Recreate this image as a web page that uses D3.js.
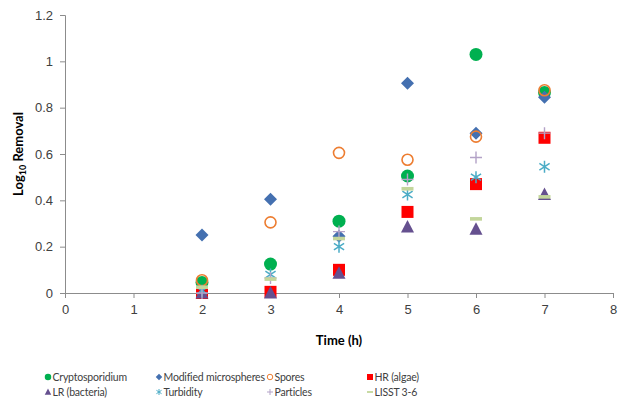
<!DOCTYPE html>
<html>
<head>
<meta charset="utf-8">
<script src="https://cdn.jsdelivr.net/npm/d3@7"></script>
<style>
  body { margin: 0; background: #fff; }
  svg { font-family: Lato, "Open Sans", sans-serif; }
</style>
</head>
<body>
<svg id="chart" width="619" height="410"></svg>
<script>
// values
const times = [2, 3, 4, 5, 6, 7];
const cryptosporidium = [0.045, 0.125, 0.31, 0.505, 1.03, 0.865];
const modifiedMicrospheres = [0.25, 0.405, 0.245, 0.905, 0.69, 0.845];
const spores = [0.055, 0.305, 0.605, 0.575, 0.675, 0.875];
const hrAlgae = [0.0, 0.005, 0.1, 0.35, 0.47, 0.67];
const lrBacteria = [0.0, 0.0, 0.085, 0.285, 0.275, 0.425];
const turbidity = [0.01, 0.08, 0.2, 0.425, 0.5, 0.545];
const particles = [0.0, 0.065, 0.265, 0.49, 0.585, 0.69];
const lisst = [0.025, 0.06, 0.235, 0.45, 0.32, 0.415];

const xTicks = [0, 1, 2, 3, 4, 5, 6, 7, 8];
const yTicks = [0, 0.2, 0.4, 0.6, 0.8, 1, 1.2];

const seriesNames = ['Cryptosporidium', 'Modified microspheres', 'Spores', 'HR (algae)',
  'LR (bacteria)', 'Turbidity', 'Particles', 'LISST 3-6'];
const seriesValues = [cryptosporidium, modifiedMicrospheres, spores, hrAlgae,
  lrBacteria, turbidity, particles, lisst];

const styles = {
  'Cryptosporidium': { shape: 'circle', color: '#00b050' },
  'Modified microspheres': { shape: 'diamond', color: '#4470b0' },
  'Spores': { shape: 'ring', color: '#ed7d31' },
  'HR (algae)': { shape: 'square', color: '#ff0000' },
  'LR (bacteria)': { shape: 'triangle', color: '#65508f' },
  'Turbidity': { shape: 'star', color: '#4bacc6' },
  'Particles': { shape: 'plus', color: '#b3a2c7' },
  'LISST 3-6': { shape: 'dash', color: '#c3d69b' },
};

const svg = d3.select('#chart');
const plotLeft = 65, plotRight = 613, plotTop = 15, plotBottom = 293;

const x = d3.scaleLinear().domain([0, 8]).range([plotLeft, plotRight]);
const y = d3.scaleLinear().domain([0, 1.2]).range([plotBottom, plotTop]);

const axisColor = '#8c8c8c';
const textColor = '#404040';

// axes
const xAxis = svg.append('g')
  .attr('transform', `translate(0,${plotBottom})`)
  .call(d3.axisBottom(x).tickValues(xTicks).tickSize(5).tickPadding(7).tickFormat(d3.format('d')));
const yAxis = svg.append('g')
  .attr('transform', `translate(${plotLeft},0)`)
  .call(d3.axisLeft(y).tickValues(yTicks).tickSize(5).tickPadding(7).tickFormat(d => String(d)));

[xAxis, yAxis].forEach(g => {
  g.select('.domain').attr('stroke', axisColor);
  g.selectAll('.tick line').attr('stroke', axisColor);
  g.selectAll('.tick text').attr('fill', textColor).style('font-size', '13px');
});

// axis titles
svg.append('text')
  .attr('x', x(4)).attr('y', 345)
  .attr('text-anchor', 'middle')
  .style('font-size', '13px').style('font-weight', 'bold').attr('fill', '#000')
  .text('Time (h)');

const yTitle = svg.append('text')
  .attr('transform', `translate(23,${(plotTop + plotBottom) / 2}) rotate(-90)`)
  .attr('text-anchor', 'middle')
  .style('font-size', '13px').style('font-weight', 'bold').attr('fill', '#000');
yTitle.append('tspan').text('Log');
yTitle.append('tspan').attr('dy', 3).style('font-size', '9px').text('10');
yTitle.append('tspan').attr('dy', -3).text(' Removal');

// marker drawing
function drawMarker(g, shape, color, s) {
  const k = s / 12;
  switch (shape) {
    case 'circle':
      g.append('circle').attr('r', 6.5 * k).attr('fill', color);
      break;
    case 'ring':
      g.append('circle').attr('r', 5.5 * k).attr('fill', 'none')
        .attr('stroke', color).attr('stroke-width', s < 10 ? 1 : 1.6);
      break;
    case 'diamond': {
      const r = 6.5 * k;
      g.append('path').attr('d', `M0,${-r}L${r},0L0,${r}L${-r},0Z`).attr('fill', color);
      break;
    }
    case 'square':
      g.append('rect').attr('x', -6 * k).attr('y', -6 * k)
        .attr('width', 12 * k).attr('height', 12 * k).attr('fill', color);
      break;
    case 'triangle':
      g.append('path').attr('d', `M0,${-7 * k}L${6.5 * k},${5.5 * k}L${-6.5 * k},${5.5 * k}Z`).attr('fill', color);
      break;
    case 'star': {
      const r = 6 * k;
      g.append('path')
        .attr('d', `M0,${-r}V${r}M${-r * 0.85},${-r * 0.55}L${r * 0.85},${r * 0.55}M${-r * 0.85},${r * 0.55}L${r * 0.85},${-r * 0.55}`)
        .attr('stroke', color).attr('stroke-width', s < 10 ? 1 : 1.5).attr('fill', 'none');
      break;
    }
    case 'plus': {
      const r = 6 * k;
      g.append('path').attr('d', `M${-r},0H${r}M0,${-r}V${r}`)
        .attr('stroke', color).attr('stroke-width', s < 10 ? 1 : 1.4).attr('fill', 'none');
      break;
    }
    case 'dash':
      g.append('rect').attr('x', -6 * k).attr('y', -1.8 * k)
        .attr('width', 12 * k).attr('height', 3.6 * k).attr('fill', color);
      break;
  }
}

// points
seriesNames.forEach((name, i) => {
  const st = styles[name];
  const grp = svg.append('g').attr('class', 'series');
  grp.selectAll('g.pt')
    .data(times.map((t, j) => ({ t, v: seriesValues[i][j] })))
    .join('g')
    .attr('class', 'pt')
    .attr('transform', d => `translate(${x(d.t)},${y(d.v)})`)
    .each(function () { drawMarker(d3.select(this), st.shape, st.color, 12); });
});

// legend
const legendCols = [48, 159, 270, 370];
const legendRows = [377, 392];
seriesNames.forEach((name, i) => {
  const st = styles[name];
  const lg = svg.append('g')
    .attr('transform', `translate(${legendCols[i % 4]},${legendRows[Math.floor(i / 4)]})`);
  drawMarker(lg, st.shape, st.color, 6);
  lg.append('text').attr('x', 4.5).attr('y', 0).attr('dy', '0.35em')
    .style('font-size', '10.5px').style('letter-spacing', '-0.2px')
    .attr('fill', textColor).text(name);
});
</script>
</body>
</html>
